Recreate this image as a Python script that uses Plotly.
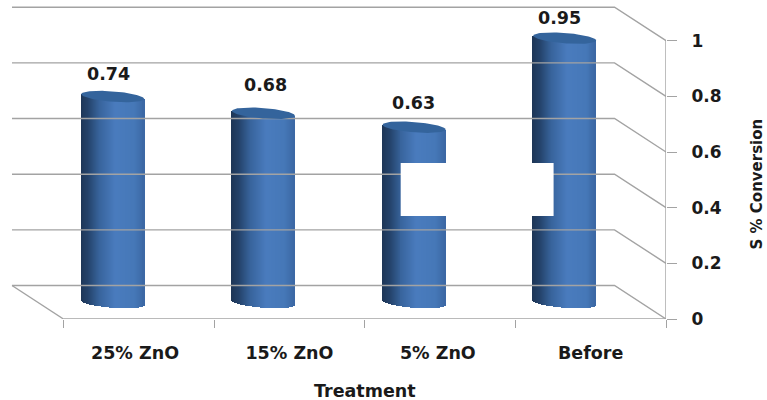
import numpy as np
import plotly.graph_objects as go

categories = ["25% ZnO", "15% ZnO", "5% ZnO", "Before"]
values = [0.74, 0.68, 0.63, 0.95]
y_ticks = [0, 0.2, 0.4, 0.6, 0.8, 1]
y_tick_text = ["0", "0.2", "0.4", "0.6", "0.8", "1"]
label_dx = [-4, 2, -1, -5]
label_dy = [23, 28, 24, 20]
cat_label_x = [0.475, 1.5, 2.485, 3.5]

# page geometry
W, H = 767, 400
x0_px, x_unit = 63.5, 150.75
y0_px, y_unit = 319.0, 278.3
left_px, right_px = 10.0, 666.5
def X(p): return (p - x0_px) / x_unit
def Y(p): return (y0_px - p) / y_unit

GRID = "#a3a3a3"
FONT = "DejaVu Sans"
INK = "#1a1a1a"

wall_dx, wall_dy = 51.5, 33.5          # 3-D depth of the wall, px
bar_depth = 16.5 / y_unit              # bars stand mid-floor
bar_shift = -26.0 / x_unit
bar_half = 31.5 / x_unit
ry, tilt = 5.2 / y_unit, 2.4 / y_unit

stops = [(0, (30, 54, 86)), (0.12, (36, 66, 106)), (0.3, (56, 100, 156)),
         (0.55, (74, 124, 190)), (0.85, (70, 120, 184)), (1, (60, 104, 164))]
def shade(u):
    xs = [s[0] for s in stops]
    return "rgb(%d,%d,%d)" % tuple(np.interp(u, xs, [s[1][k] for s in stops]) for k in range(3))

fig = go.Figure()

def line(xs, ys, width=1.4):
    fig.add_trace(go.Scatter(x=xs, y=ys, mode="lines", line=dict(color=GRID, width=width),
                             hoverinfo="skip", showlegend=False, cliponaxis=False))

# back wall, side wall, floor
for v in y_ticks:
    ay = v + wall_dy / y_unit
    line([X(12), X(right_px - wall_dx), X(right_px)], [ay, ay, v])
line([X(12), 0], [wall_dy / y_unit, 0])
line([0, 4], [0, 0])
line([4, 4], [0, 1])

# cylinders: thin vertical strips, from each value
n = 64
centers = [i + 0.5 + bar_shift for i in range(len(values))]
t = (np.arange(n) + 0.5) / n * 2 - 1
sx, sb, sh, sc = [], [], [], []
for c, v in zip(centers, values):
    for ti in t:
        arc = np.sqrt(1 - ti ** 2)
        sx.append(c + ti * bar_half)
        bottom = bar_depth - ry * arc - tilt * ti
        top = bar_depth + v - tilt * ti
        sb.append(bottom)
        sh.append(top - bottom)
        sc.append(shade((ti + 1) / 2))
fig.add_trace(go.Bar(x=sx, y=sh, base=sb, width=1.6 * 2 * bar_half / n,
                     marker=dict(color=sc, line=dict(width=0)),
                     hoverinfo="skip", showlegend=False))

# cylinder caps
a = np.linspace(0, 2 * np.pi, 80)
for c, v in zip(centers, values):
    fig.add_trace(go.Scatter(x=c + bar_half * np.cos(a),
                             y=bar_depth + v + ry * np.sin(a) - tilt * np.cos(a),
                             mode="lines", fill="toself", fillcolor="#34649c",
                             line=dict(width=0, color="#34649c"),
                             hoverinfo="skip", showlegend=False))

for c, v, dx, dy in zip(centers, values, label_dx, label_dy):
    fig.add_annotation(x=c, y=v + bar_depth, text=str(v), showarrow=False, xshift=dx, yshift=dy,
                       font=dict(family=FONT, size=17.5, color=INK, weight="bold"))

# white patch present in the source image
fig.add_shape(type="rect", xref="x", yref="y", x0=X(401), x1=X(554), y0=Y(216), y1=Y(163),
              fillcolor="white", line=dict(width=0), layer="above")

fig.add_annotation(xref="paper", yref="paper", x=(758 - left_px) / (right_px - left_px), xanchor="center",
                   y=(y0_px - 184) / y0_px, yanchor="middle", text="S % Conversion", textangle=-90, showarrow=False,
                   font=dict(family=FONT, size=15, color=INK, weight="bold"))
fig.add_annotation(xref="x", yref="paper", x=2, xanchor="center",
                   y=(y0_px - 391) / y0_px, yanchor="middle", text="Treatment", showarrow=False,
                   font=dict(family=FONT, size=17.5, color=INK, weight="bold"))

fig.update_layout(
    width=W, height=H, paper_bgcolor="white", plot_bgcolor="white",
    margin=dict(l=left_px, r=W - right_px, t=0, b=H - y0_px, pad=0),
    barmode="overlay", bargap=0, showlegend=False,
    xaxis=dict(range=[X(left_px), 4], tickmode="array",
               tickvals=cat_label_x, ticktext=categories,
               ticks="", ticklabelstandoff=21, showgrid=False, zeroline=False, showline=False,
               tickfont=dict(family=FONT, size=17.5, color=INK, weight="bold"),
               minor=dict(tick0=0, dtick=1, ticks="outside", ticklen=8, tickcolor=GRID, tickwidth=1.4, showgrid=False)),
    yaxis=dict(range=[0, y0_px / y_unit], side="right", tickmode="array", tickvals=y_ticks,
               ticktext=y_tick_text, ticks="outside", ticklen=10, tickcolor=GRID, tickwidth=1.4,
               ticklabelstandoff=11, showgrid=False, zeroline=False, showline=False,
               tickfont=dict(family=FONT, size=17, color=INK, weight="bold")),
)
fig.write_html("out.html", config=dict(displayModeBar=False),
               post_script="document.body.style.margin='0';document.body.style.overflow='hidden';")
